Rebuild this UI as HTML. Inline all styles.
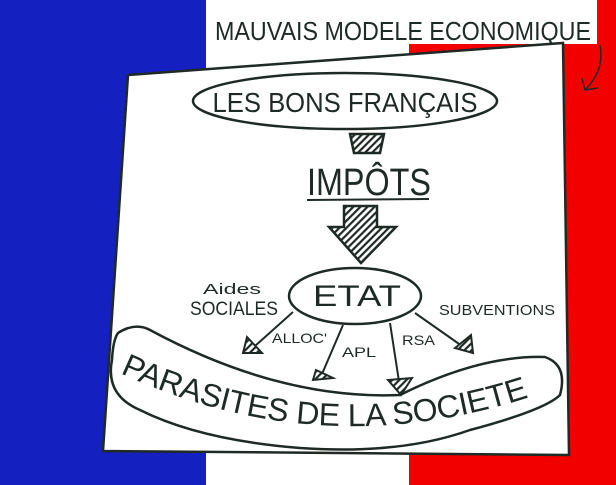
<!DOCTYPE html>
<html><head><meta charset="utf-8"><style>
html,body{margin:0;padding:0;width:616px;height:485px;overflow:hidden;background:#fff}
svg{display:block}
text{font-family:"Liberation Sans",sans-serif;fill:#1f2a25}
</style></head><body>
<svg width="616" height="485" viewBox="0 0 616 485" xmlns="http://www.w3.org/2000/svg">
<defs>
<pattern id="h" width="5" height="5" patternUnits="userSpaceOnUse" patternTransform="rotate(45)">
<rect width="5" height="5" fill="#fff"/><rect width="2.2" height="5" fill="#1f2a25"/></pattern>
</defs>
<rect x="0" y="0" width="206" height="485" fill="#1420bf"/>
<rect x="206" y="0" width="203" height="485" fill="#fff"/>
<rect x="409" y="0" width="207" height="485" fill="#f20000"/>
<rect x="409" y="0" width="188" height="44" fill="#fff"/>
<text x="215" y="40" font-size="26" textLength="376" lengthAdjust="spacingAndGlyphs">MAUVAIS MODELE ECONOMIQUE</text>
<path d="M600 45 Q605 70 585 90 M582 78 L585 90 L598 88" fill="none" stroke="#1f2a25" stroke-width="1.5"/>
<polygon points="128,75 563,43 569,455 103,451" fill="#fff" stroke="#1f2a25" stroke-width="2.5"/>
<ellipse cx="345" cy="101" rx="152" ry="28" fill="#fff" stroke="#1f2a25" stroke-width="2.5"/>
<text x="345" y="112" font-size="28" text-anchor="middle" textLength="265" lengthAdjust="spacingAndGlyphs">LES  BONS FRANÇAIS</text>
<polygon points="350,134 384,134 380,153 354,153" fill="url(#h)" stroke="#1f2a25" stroke-width="2.5"/>
<text x="369" y="195" font-size="38" text-anchor="middle" textLength="124" lengthAdjust="spacingAndGlyphs">IMPÔTS</text>
<line x1="307" y1="200" x2="429" y2="199" stroke="#1f2a25" stroke-width="2"/>
<polygon points="344,206 377,206 377,227 396,227 361,263 329,227 344,227" fill="url(#h)" stroke="#1f2a25" stroke-width="2.5"/>
<ellipse cx="355" cy="296" rx="66" ry="28" fill="#fff" stroke="#1f2a25" stroke-width="2.5"/>
<text x="357" y="306" font-size="30" text-anchor="middle" textLength="88" lengthAdjust="spacingAndGlyphs">ETAT</text>
<text x="232" y="294" font-size="15" text-anchor="middle" textLength="58" lengthAdjust="spacingAndGlyphs">Aides</text>
<text x="234" y="315" font-size="19" text-anchor="middle" textLength="88" lengthAdjust="spacingAndGlyphs">SOCIALES</text>
<text x="497" y="315" font-size="15" text-anchor="middle" textLength="116" lengthAdjust="spacingAndGlyphs">SUBVENTIONS</text>
<g stroke="#1f2a25" stroke-width="2" fill="none">
<line x1="293" y1="312" x2="255" y2="346"/>
<line x1="343" y1="325" x2="322" y2="374"/>
<line x1="390" y1="323" x2="400" y2="388"/>
<line x1="415" y1="313" x2="462" y2="346"/>
</g>
<g fill="url(#h)" stroke="#1f2a25" stroke-width="2">
<polygon points="247,337 262,353 243,353"/>
<polygon points="316,370 333,378 313,380"/>
<polygon points="388,380 412,378 401,395"/>
<polygon points="471,335 473,353 455,348"/>
</g>
<text x="272" y="343" font-size="14" textLength="55" lengthAdjust="spacingAndGlyphs">ALLOC'</text>
<text x="342" y="357" font-size="14" textLength="34" lengthAdjust="spacingAndGlyphs">APL</text>
<text x="402" y="345" font-size="14" textLength="33" lengthAdjust="spacingAndGlyphs">RSA</text>
<path d="M118,333 Q135,322 150,330 Q280,400 400,395 Q480,355 545,357 Q568,365 560,395 Q545,410 470,430 Q400,455 300,448 Q200,440 140,410 Q105,395 112,360 Q113,340 118,333 Z" fill="none" stroke="#1f2a25" stroke-width="2.5"/>
<path id="tp" d="M120,373 Q330,470 550,390" fill="none"/>
<text font-size="32"><textPath href="#tp" textLength="420" lengthAdjust="spacing">PARASITES DE LA SOCIETE</textPath></text>
</svg>
</body></html>
